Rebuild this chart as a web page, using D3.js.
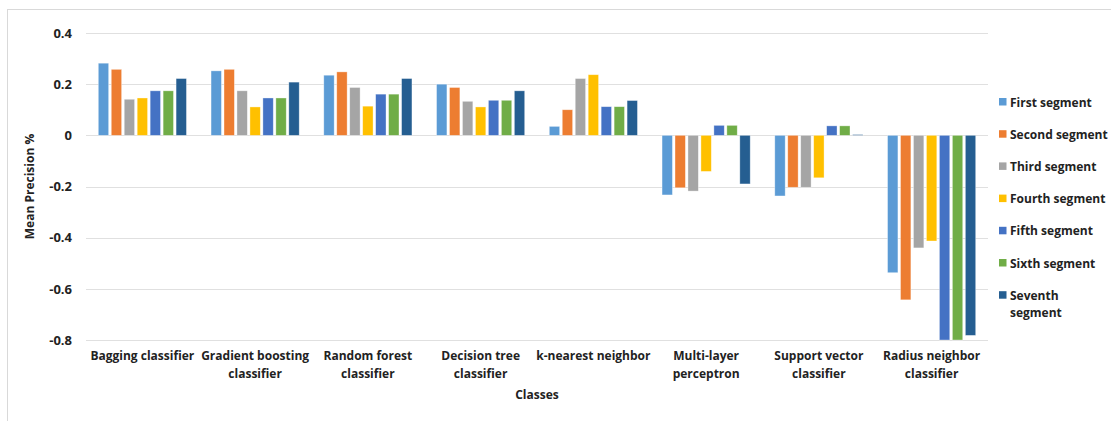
<!DOCTYPE html>
<html><head><meta charset="utf-8">
<script src="https://cdn.jsdelivr.net/npm/d3@7"></script>
<style>body{margin:0;background:#fff;}svg{display:block;font-family:"Open Sans","Liberation Sans",sans-serif;font-weight:bold;}</style>
</head><body>
<svg id="c" width="1111" height="421"></svg>
<script>
const categories = [["Bagging classifier"],["Gradient boosting","classifier"],["Random forest","classifier"],["Decision tree","classifier"],["k-nearest neighbor"],["Multi-layer","perceptron"],["Support vector","classifier"],["Radius neighbor","classifier"]];
const seriesNames = ["First segment","Second segment","Third segment","Fourth segment","Fifth segment","Sixth segment","Seventh segment"];
const colors = ["#5B9BD5","#ED7D31","#A5A5A5","#FFC000","#4472C4","#70AD47","#255E91"];
const first   = [0.282,0.252,0.235,0.200,0.035,-0.233,-0.237,-0.537];
const second  = [0.258,0.258,0.248,0.187,0.100,-0.205,-0.203,-0.643];
const third   = [0.141,0.174,0.187,0.133,0.222,-0.218,-0.203,-0.440];
const fourth  = [0.146,0.111,0.114,0.111,0.237,-0.141,-0.166,-0.413];
const fifth   = [0.174,0.146,0.161,0.137,0.112,0.039,0.037,-0.800];
const sixth   = [0.174,0.146,0.161,0.137,0.112,0.039,0.037,-0.800];
const seventh = [0.222,0.208,0.222,0.174,0.136,-0.190,0.003,-0.782];
const yTicks = [0.4,0.2,0,-0.2,-0.4,-0.6,-0.8];
const series = [first,second,third,fourth,fifth,sixth,seventh];

const svg = d3.select("#c");
svg.append("rect").attr("x",7.5).attr("y",9.5).attr("width",1120).attr("height",430).attr("fill","none").attr("stroke","#d9d9d9");

const L=86,R=988,T=33,B=340;
const y = d3.scaleLinear().domain([-0.8,0.4]).range([B,T]);
const x = d3.scaleBand().domain(d3.range(categories.length)).range([L,R]).padding(0);
const xi = d3.scaleBand().domain(d3.range(series.length)).range([11,x.bandwidth()-11]).paddingInner(0.2).paddingOuter(0.1);

// grid
svg.append("g").selectAll("line").data(yTicks).join("line")
  .attr("x1",L).attr("x2",R).attr("y1",d=>Math.round(y(d))+0.5).attr("y2",d=>Math.round(y(d))+0.5)
  .attr("stroke","#e0e0e0").attr("stroke-width",1);

// y axis labels
const yAxis = d3.axisLeft(y).tickValues(yTicks).tickSize(0).tickPadding(0).tickFormat(d=>d===0?"0":d.toFixed(1));
const ga = svg.append("g").attr("transform",`translate(72,0)`).call(yAxis);
ga.select(".domain").remove();
ga.selectAll("text").attr("font-size",13).attr("font-weight","bold").attr("fill","#222").attr("font-family","'Open Sans','Liberation Sans',sans-serif");

// bars
series.forEach((s,si)=>{
  svg.append("g").selectAll("rect").data(s).join("rect")
    .attr("x",(d,i)=>x(i)+xi(si))
    .attr("width",xi.bandwidth())
    .attr("y",d=>y(Math.max(0,d)))
    .attr("height",d=>Math.abs(y(d)-y(0)))
    .attr("fill",colors[si])
    .attr("stroke","#fff").attr("stroke-opacity",0.5).attr("stroke-width",0.7);
});

// category labels
const cl = svg.append("g").selectAll("text").data(categories).join("text")
  .attr("x",(d,i)=>x(i)+x.bandwidth()/2).attr("y",360)
  .attr("text-anchor","middle").attr("font-size",12).attr("fill","#222");
cl.each(function(d){
  d3.select(this).selectAll("tspan").data(d).join("tspan")
    .attr("x",d3.select(this).attr("x")).attr("dy",(t,j)=>j===0?0:18).text(t=>t);
});

// axis titles
svg.append("text").attr("x",(L+R)/2).attr("y",399).attr("text-anchor","middle").attr("font-size",12).attr("fill","#222").text("Classes");
svg.append("text").attr("transform",`translate(34,${(T+B)/2}) rotate(-90)`).attr("text-anchor","middle").attr("font-size",12).attr("fill","#222").text("Mean Precision %");

// legend
const lg = svg.append("g");
seriesNames.forEach((n,i)=>{
  const ry = 102 + i*32.2;
  lg.append("rect").attr("x",999).attr("y",ry-4).attr("width",7.5).attr("height",7.5).attr("fill",colors[i]);
  const t = lg.append("text").attr("x",1010).attr("y",ry+4.5).attr("font-size",12).attr("fill","#222");
  if(n==="Seventh segment"){
    t.append("tspan").attr("x",1010).text("Seventh");
    t.append("tspan").attr("x",1010).attr("dy",17).text("segment");
  } else t.text(n);
});
</script>
</body></html>
